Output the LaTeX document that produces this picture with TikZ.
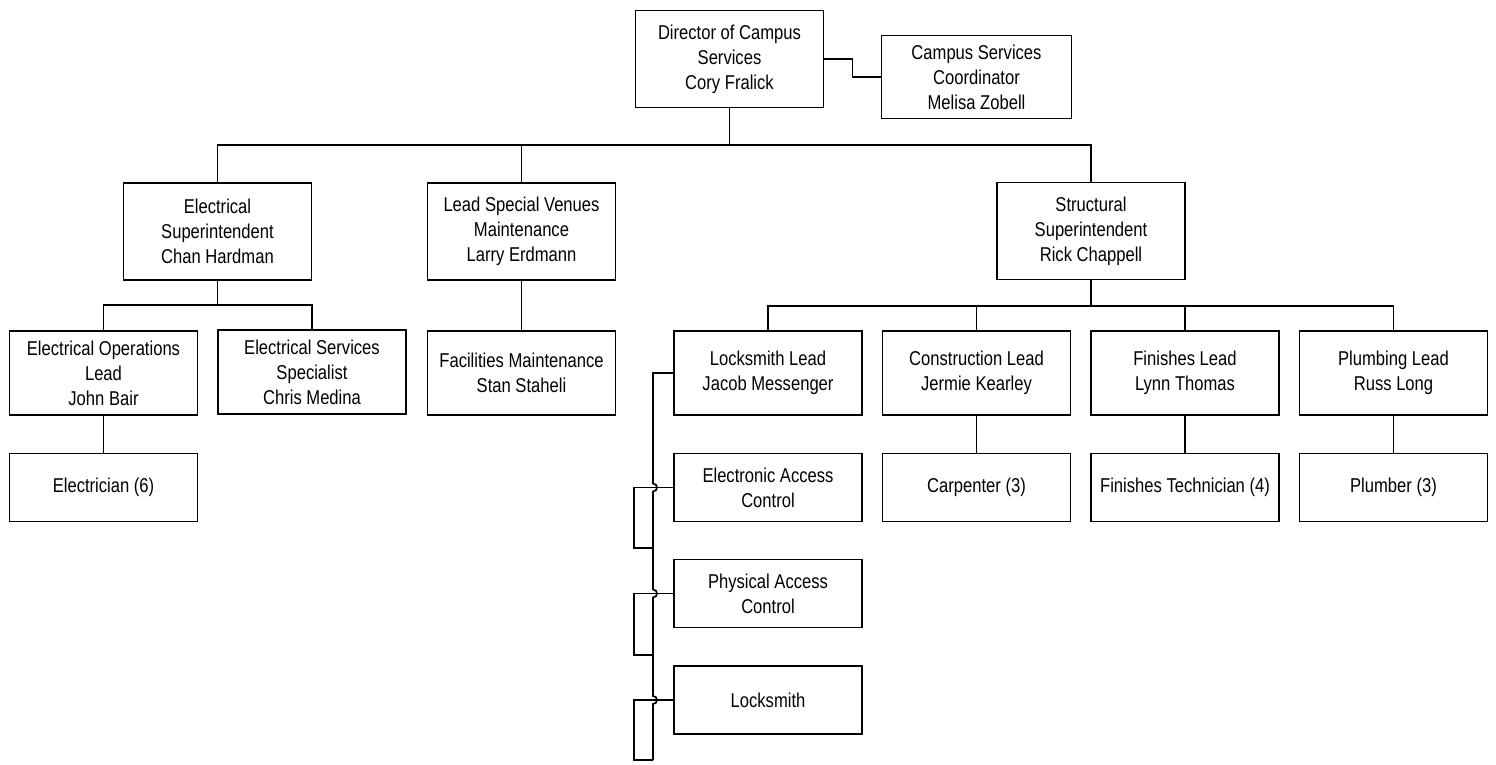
\documentclass[tikz,border=0pt]{standalone}
\usepackage{fontspec}
\setmainfont{Liberation Sans}[FakeStretch=0.83]
\begin{document}
\begin{tikzpicture}[x=1pt,y=-1pt,
  box/.style={draw, line width=1.8pt, align=center, inner sep=0pt,
    font=\fontsize{20}{25}\selectfont, minimum width=188pt},
  tall/.style={box, minimum height=97pt},
  mid/.style={box, minimum height=84pt},
  low/.style={box, minimum height=68pt},
  conn/.style={line width=1.7pt}]
\useasboundingbox (0,0) rectangle (1496,764);
% top
\node[tall] (dir) at (729.5,59) {Director of Campus\\Services\\Cory Fralick};
\node[box, minimum width=190pt, minimum height=83pt] (coord) at (976.5,77) {Campus Services\\Coordinator\\Melisa Zobell};
% level 2
\node[tall] (esup) at (217.5,231.5) {Electrical\\Superintendent\\Chan Hardman};
\node[tall] (lsv) at (521.5,231.5) {Lead Special Venues\\Maintenance\\Larry Erdmann};
\node[tall] (ssup) at (1091,231) {Structural\\Superintendent\\Rick Chappell};
% level 3
\node[mid] (eol) at (103.5,373) {Electrical Operations\\Lead\\John Bair};
\node[mid] (ess) at (312,372) {Electrical Services\\Specialist\\Chris Medina};
\node[mid] (fm) at (521.5,373) {Facilities Maintenance\\Stan Staheli};
\node[mid] (ll) at (768,373) {Locksmith Lead\\Jacob Messenger};
\node[mid] (cl) at (976.5,373) {Construction Lead\\Jermie Kearley};
\node[mid] (fl) at (1185,373) {Finishes Lead\\Lynn Thomas};
\node[mid] (pl) at (1393.5,373) {Plumbing Lead\\Russ Long};
% level 4
\node[low] (elec) at (103.5,487.5) {Electrician (6)};
\node[low] (eac) at (768,487.5) {Electronic Access\\Control};
\node[low] (carp) at (976.5,487.5) {Carpenter (3)};
\node[low] (ftech) at (1185,487.5) {Finishes Technician (4)};
\node[low] (plumb) at (1393.5,487.5) {Plumber (3)};
\node[low] (pac) at (768,593.5) {Physical Access\\Control};
\node[low] (lock) at (768,700) {Locksmith};
% bus coordinates
\coordinate (bus1) at (729.5,145);
\coordinate (bus2) at (217.5,305);
\coordinate (bus3) at (1091,306);
\coordinate (j1) at (653,548);
\coordinate (j2) at (653,655);
\coordinate (j3) at (653,760);
% connectors
\draw[conn] (dir.east) -- ++(28,0) |- (coord.west);
\draw[conn] (dir.south) -- (bus1);
\draw[conn] (esup.north) |- (bus1) -| (ssup.north);
\draw[conn] (lsv.north) -- (lsv.north |- bus1);
\draw[conn] (esup.south) -- (bus2);
\draw[conn] (eol.north) |- (bus2) -| (ess.north);
\draw[conn] (ssup.south) -- (bus3);
\draw[conn] (ll.north) |- (bus3) -| (pl.north);
\draw[conn] (cl.north) -- (cl.north |- bus3);
\draw[conn] (fl.north) -- (fl.north |- bus3);
\draw[conn] (eol.south) -- (elec.north);
\draw[conn] (lsv.south) -- (fm.north);
\draw[conn] (cl.south) -- (carp.north);
\draw[conn] (fl.south) -- (ftech.north);
\draw[conn] (pl.south) -- (plumb.north);
% locksmith chain with line jumps
\draw[conn] (ll.west) -- (ll.west -| j1) -- (653,483.5)
  .. controls (658.3,483.5) and (658.3,491.5) .. (653,491.5) -- (653,589.5)
  .. controls (658.3,589.5) and (658.3,597.5) .. (653,597.5) -- (653,696)
  .. controls (658.3,696) and (658.3,704) .. (653,704) -- (j3);
\draw[conn] (eac.west) -- ++(-39,0) |- (j1);
\draw[conn] (pac.west) -- ++(-39,0) |- (j2);
\draw[conn] (lock.west) -- ++(-39,0) |- (j3);
\end{tikzpicture}
\end{document}
